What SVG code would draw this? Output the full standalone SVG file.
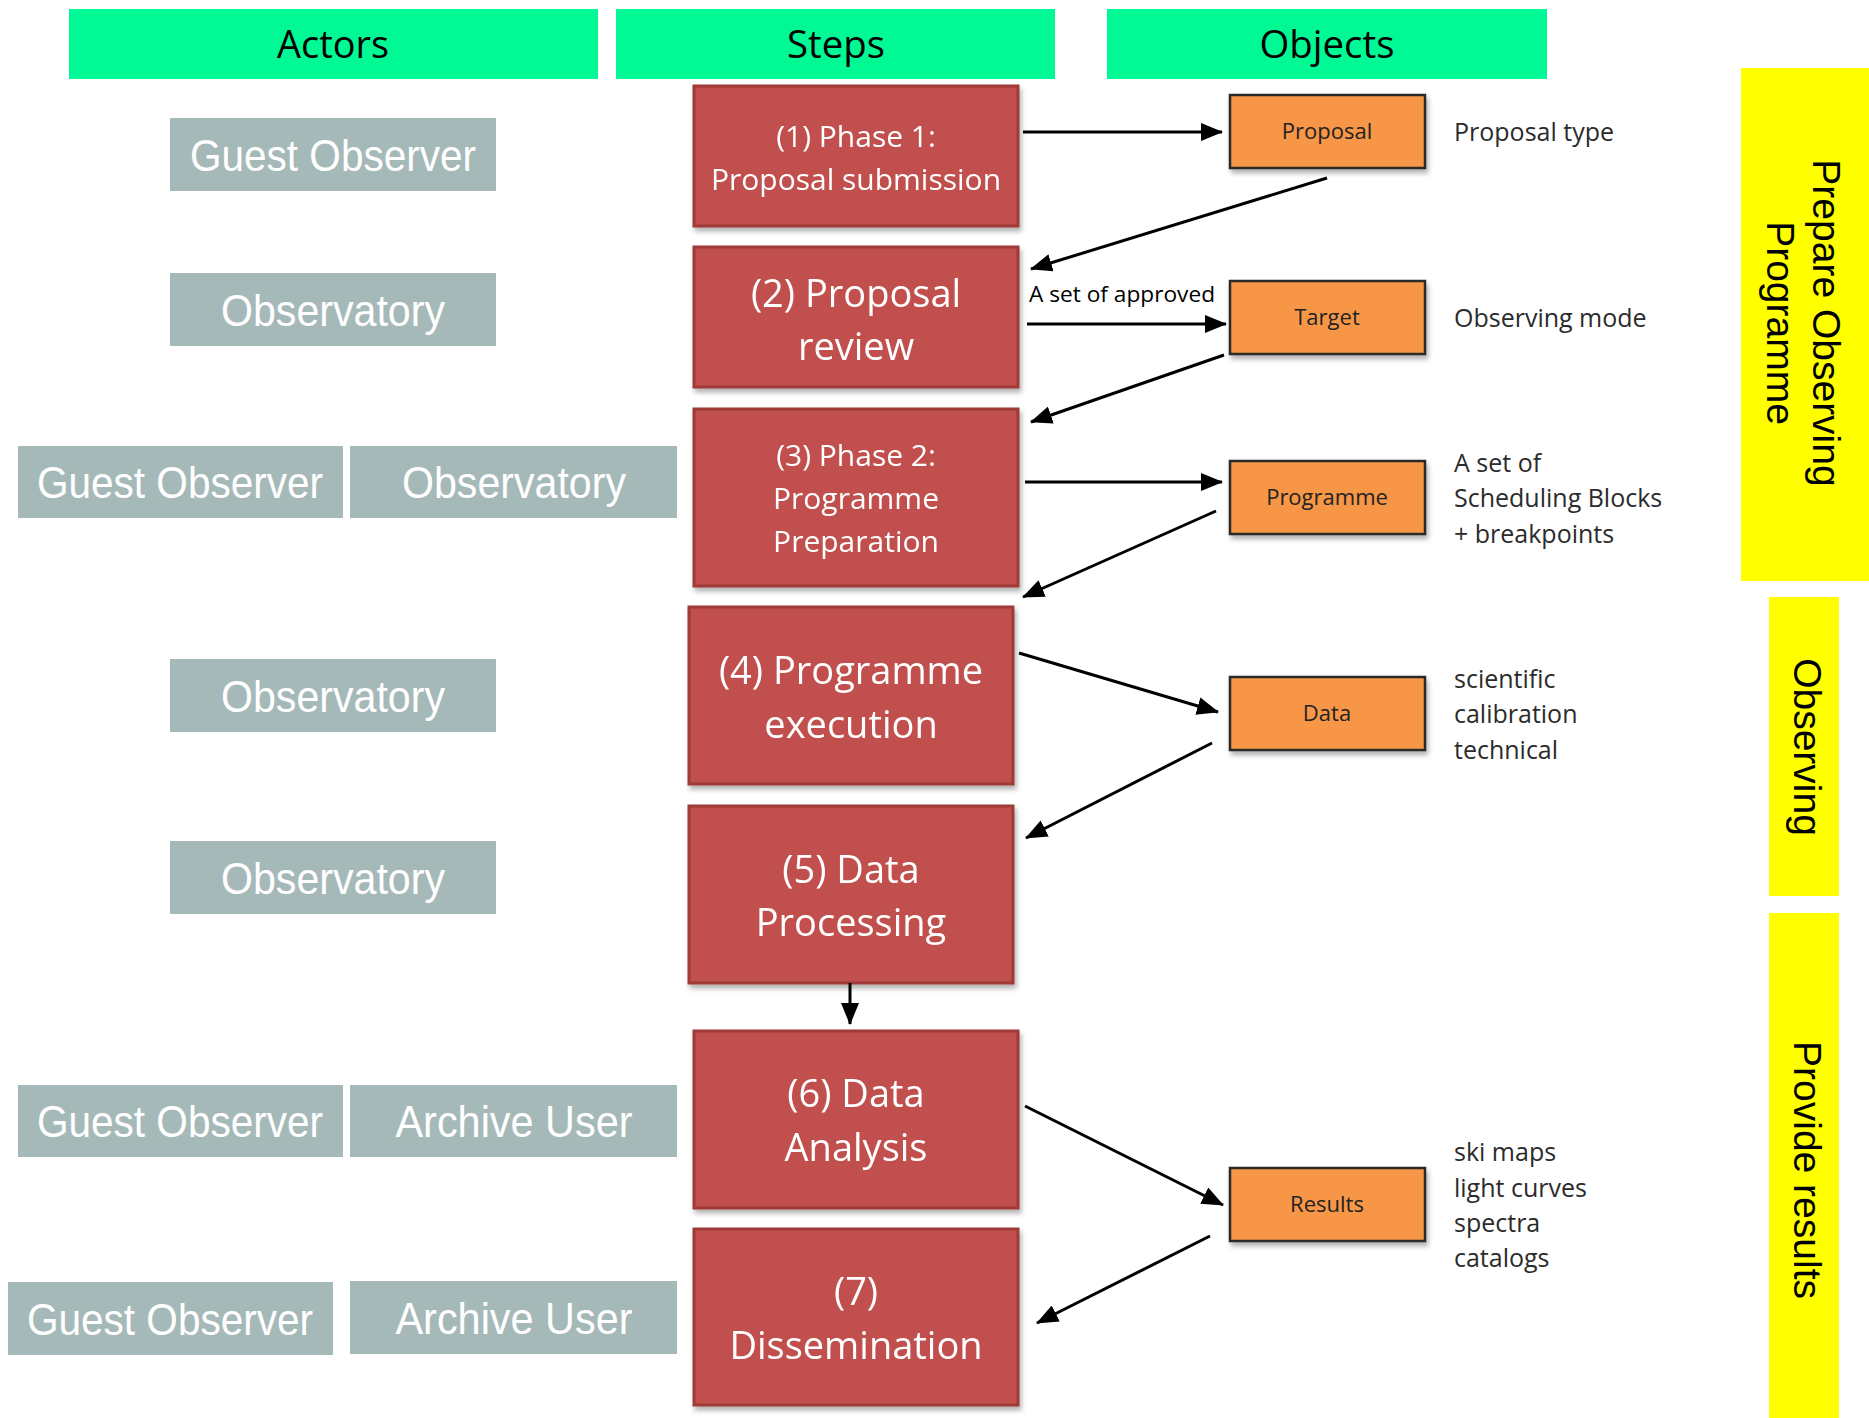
<svg xmlns="http://www.w3.org/2000/svg" width="1869" height="1418" viewBox="0 0 1869 1418">
  <style>
    .hdr { fill: #00F994; }
    .hdr-t { font-family: "Open Sans", "Liberation Sans", sans-serif; font-size: 39px; fill: #000; text-anchor: middle; }
    .actor { fill: #A6B9B9; }
    .actor-t { font-family: "Liberation Sans", Arial, sans-serif; font-size: 44px; fill: #fff; text-anchor: middle; }
    .step { fill: #C0504D; stroke: #9E3B39; stroke-width: 3; }
    .step-s { font-family: "Open Sans", "Liberation Sans", sans-serif; font-size: 30px; fill: #fff; text-anchor: middle; }
    .step-l { font-family: "Open Sans", "Liberation Sans", sans-serif; font-size: 38px; fill: #fff; text-anchor: middle; }
    .obj { fill: #F79646; stroke: #2a2a2a; stroke-width: 2.5; }
    .obj-t { font-family: "Open Sans", "Liberation Sans", sans-serif; font-size: 22px; fill: #222; text-anchor: middle; }
    .note { font-family: "Open Sans", "Liberation Sans", sans-serif; font-size: 25px; fill: #2b2b2b; }
    .phase { fill: #FFFF00; }
    .phase-t { font-family: "Liberation Sans", Arial, sans-serif; font-size: 39px; fill: #000; text-anchor: middle; }
    .conn { stroke: #000; stroke-width: 3; fill: none; marker-end: url(#head); }
  </style>
  <defs>
    <marker id="head" markerUnits="userSpaceOnUse" markerWidth="22" markerHeight="18" refX="21" refY="9" orient="auto">
      <path d="M0,0 L22,9 L0,18 Z" fill="#000"/>
    </marker>
    <filter id="shadow" x="-10%" y="-10%" width="130%" height="130%">
      <feDropShadow dx="2" dy="4" stdDeviation="2.5" flood-color="#000" flood-opacity="0.3"/>
    </filter>
  </defs>

  <rect width="1869" height="1418" fill="#fff"/>

  <!-- column headers -->
  <g id="header-actors">
    <rect class="hdr" x="69" y="9" width="529" height="70"/>
    <text class="hdr-t" x="333" y="58" textLength="112" lengthAdjust="spacingAndGlyphs">Actors</text>
  </g>
  <g id="header-steps">
    <rect class="hdr" x="616" y="9" width="439" height="70"/>
    <text class="hdr-t" x="836" y="58" textLength="98" lengthAdjust="spacingAndGlyphs">Steps</text>
  </g>
  <g id="header-objects">
    <rect class="hdr" x="1107" y="9" width="440" height="70"/>
    <text class="hdr-t" x="1327" y="58" textLength="135" lengthAdjust="spacingAndGlyphs">Objects</text>
  </g>

  <!-- actors -->
  <g id="actor-guest-1">
    <rect class="actor" x="170" y="118" width="326" height="73"/>
    <text class="actor-t" x="333" y="171" textLength="286" lengthAdjust="spacingAndGlyphs">Guest Observer</text>
  </g>
  <g id="actor-observatory-1">
    <rect class="actor" x="170" y="273" width="326" height="73"/>
    <text class="actor-t" x="333" y="326" textLength="224" lengthAdjust="spacingAndGlyphs">Observatory</text>
  </g>
  <g id="actor-guest-2">
    <rect class="actor" x="18" y="446" width="325" height="72"/>
    <text class="actor-t" x="180" y="498" textLength="286" lengthAdjust="spacingAndGlyphs">Guest Observer</text>
  </g>
  <g id="actor-observatory-2">
    <rect class="actor" x="350" y="446" width="327" height="72"/>
    <text class="actor-t" x="514" y="498" textLength="224" lengthAdjust="spacingAndGlyphs">Observatory</text>
  </g>
  <g id="actor-observatory-3">
    <rect class="actor" x="170" y="659" width="326" height="73"/>
    <text class="actor-t" x="333" y="712" textLength="224" lengthAdjust="spacingAndGlyphs">Observatory</text>
  </g>
  <g id="actor-observatory-4">
    <rect class="actor" x="170" y="841" width="326" height="73"/>
    <text class="actor-t" x="333" y="894" textLength="224" lengthAdjust="spacingAndGlyphs">Observatory</text>
  </g>
  <g id="actor-guest-3">
    <rect class="actor" x="18" y="1085" width="325" height="72"/>
    <text class="actor-t" x="180" y="1137" textLength="286" lengthAdjust="spacingAndGlyphs">Guest Observer</text>
  </g>
  <g id="actor-archive-1">
    <rect class="actor" x="350" y="1085" width="327" height="72"/>
    <text class="actor-t" x="514" y="1137" textLength="237" lengthAdjust="spacingAndGlyphs">Archive User</text>
  </g>
  <g id="actor-guest-4">
    <rect class="actor" x="8" y="1282" width="325" height="73"/>
    <text class="actor-t" x="170" y="1335" textLength="286" lengthAdjust="spacingAndGlyphs">Guest Observer</text>
  </g>
  <g id="actor-archive-2">
    <rect class="actor" x="350" y="1281" width="327" height="73"/>
    <text class="actor-t" x="514" y="1334" textLength="237" lengthAdjust="spacingAndGlyphs">Archive User</text>
  </g>

  <!-- steps -->
  <g id="step-1" filter="url(#shadow)">
    <rect class="step" x="694" y="86" width="324" height="140"/>
    <text class="step-s" x="856" y="147">(1) Phase 1:</text>
    <text class="step-s" x="856" y="190">Proposal submission</text>
  </g>
  <g id="step-2" filter="url(#shadow)">
    <rect class="step" x="694" y="247" width="324" height="140"/>
    <text class="step-l" x="856" y="307">(2) Proposal</text>
    <text class="step-l" x="856" y="360">review</text>
  </g>
  <g id="step-3" filter="url(#shadow)">
    <rect class="step" x="694" y="409" width="324" height="177"/>
    <text class="step-s" x="856" y="466">(3) Phase 2:</text>
    <text class="step-s" x="856" y="509">Programme</text>
    <text class="step-s" x="856" y="552">Preparation</text>
  </g>
  <g id="step-4" filter="url(#shadow)">
    <rect class="step" x="689" y="607" width="324" height="177"/>
    <text class="step-l" x="851" y="684">(4) Programme</text>
    <text class="step-l" x="851" y="738">execution</text>
  </g>
  <g id="step-5" filter="url(#shadow)">
    <rect class="step" x="689" y="806" width="324" height="177"/>
    <text class="step-l" x="851" y="883">(5) Data</text>
    <text class="step-l" x="851" y="936">Processing</text>
  </g>
  <g id="step-6" filter="url(#shadow)">
    <rect class="step" x="694" y="1031" width="324" height="177"/>
    <text class="step-l" x="856" y="1107">(6) Data</text>
    <text class="step-l" x="856" y="1161">Analysis</text>
  </g>
  <g id="step-7" filter="url(#shadow)">
    <rect class="step" x="694" y="1229" width="324" height="176"/>
    <text class="step-l" x="856" y="1305">(7)</text>
    <text class="step-l" x="856" y="1359">Dissemination</text>
  </g>

  <!-- objects -->
  <g id="obj-proposal">
    <rect class="obj" x="1230" y="95" width="195" height="73" filter="url(#shadow)"/>
    <text class="obj-t" x="1327" y="139">Proposal</text>
  </g>
  <g id="obj-target">
    <rect class="obj" x="1230" y="281" width="195" height="73" filter="url(#shadow)"/>
    <text class="obj-t" x="1327" y="325">Target</text>
  </g>
  <g id="obj-programme">
    <rect class="obj" x="1230" y="461" width="195" height="73" filter="url(#shadow)"/>
    <text class="obj-t" x="1327" y="505">Programme</text>
  </g>
  <g id="obj-data">
    <rect class="obj" x="1230" y="677" width="195" height="73" filter="url(#shadow)"/>
    <text class="obj-t" x="1327" y="721">Data</text>
  </g>
  <g id="obj-results">
    <rect class="obj" x="1230" y="1168" width="195" height="73" filter="url(#shadow)"/>
    <text class="obj-t" x="1327" y="1212">Results</text>
  </g>

  <!-- object notes -->
  <g id="notes">
    <text class="note" x="1454" y="141">Proposal type</text>
    <text class="note" x="1454" y="327">Observing mode</text>
    <text class="note" x="1454" y="472">A set of</text>
    <text class="note" x="1454" y="507">Scheduling Blocks</text>
    <text class="note" x="1454" y="543">+ breakpoints</text>
    <text class="note" x="1454" y="688">scientific</text>
    <text class="note" x="1454" y="723">calibration</text>
    <text class="note" x="1454" y="759">technical</text>
    <text class="note" x="1454" y="1161">ski maps</text>
    <text class="note" x="1454" y="1197">light curves</text>
    <text class="note" x="1454" y="1232">spectra</text>
    <text class="note" x="1454" y="1267">catalogs</text>
  </g>

  <!-- phase bands -->
  <g id="phase-prepare">
    <rect class="phase" x="1741" y="68" width="128" height="513"/>
    <text class="phase-t" transform="translate(1813,323) rotate(90)">Prepare Observing</text>
    <text class="phase-t" transform="translate(1767,323) rotate(90)">Programme</text>
  </g>
  <g id="phase-observing">
    <rect class="phase" x="1769" y="597" width="70" height="299"/>
    <text class="phase-t" transform="translate(1794,747) rotate(90)">Observing</text>
  </g>
  <g id="phase-results">
    <rect class="phase" x="1769" y="913" width="70" height="505"/>
    <text class="phase-t" transform="translate(1794,1170) rotate(90)">Provide results</text>
  </g>

  <!-- connectors -->
  <g id="connectors">
    <line class="conn" x1="1023" y1="132" x2="1222" y2="132"/>
    <line class="conn" x1="1327" y1="178" x2="1031" y2="269"/>
    <line class="conn" x1="1027" y1="324" x2="1226" y2="324"/>
    <text x="1029" y="302" font-family="Open Sans, Liberation Sans, sans-serif" font-size="21" fill="#000" textLength="186" lengthAdjust="spacingAndGlyphs">A set of approved</text>
    <line class="conn" x1="1224" y1="355" x2="1031" y2="422"/>
    <line class="conn" x1="1025" y1="482" x2="1222" y2="482"/>
    <line class="conn" x1="1216" y1="511" x2="1023" y2="597"/>
    <line class="conn" x1="1019" y1="653" x2="1218" y2="712"/>
    <line class="conn" x1="1212" y1="743" x2="1026" y2="838"/>
    <line class="conn" x1="850" y1="983" x2="850" y2="1024"/>
    <line class="conn" x1="1025" y1="1106" x2="1223" y2="1205"/>
    <line class="conn" x1="1210" y1="1236" x2="1037" y2="1323"/>
  </g>
</svg>
